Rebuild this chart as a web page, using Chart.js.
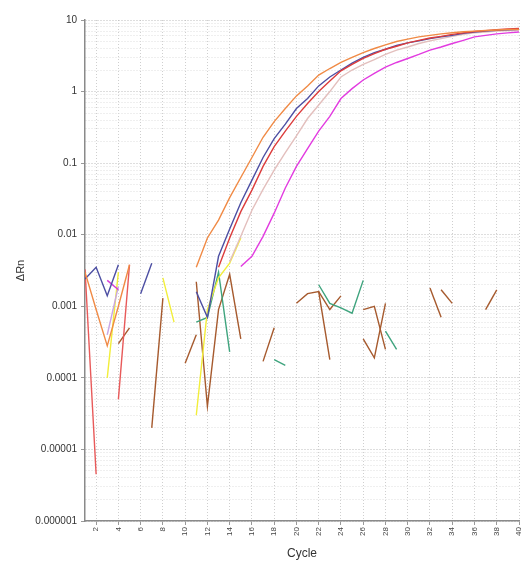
<!DOCTYPE html>
<html>
<head>
<meta charset="utf-8">
<script src="https://cdn.jsdelivr.net/npm/chart.js@4/dist/chart.umd.min.js"></script>
<style>
  html, body { margin: 0; padding: 0; background: #fff; }
  #wrap { width: 521px; height: 567px; }
</style>
</head>
<body>
<div id="wrap"><canvas id="ampChart" width="521" height="567"></canvas></div>
<script>
// axis ticks
const xTicks = [2, 4, 6, 8, 10, 12, 14, 16, 18, 20, 22, 24, 26, 28, 30, 32, 34, 36, 38, 40];
const yDecades = [0.000001, 0.00001, 0.0001, 0.001, 0.01, 0.1, 1, 10];
const yTickLabels = ['0.000001', '0.00001', '0.0001', '0.001', '0.01', '0.1', '1', '10'];

// amplification curves (delta Rn per cycle, first value at the start cycle)
const orangeStart = 11;
const orangeAmp = [0.0035, 0.009, 0.016, 0.033, 0.063, 0.12, 0.23, 0.38, 0.58, 0.87, 1.2, 1.7, 2.1, 2.55, 3.0, 3.5, 4.0, 4.5, 5.0, 5.4, 5.8, 6.1, 6.4, 6.65, 6.85, 7.0, 7.15, 7.25, 7.35, 7.4];
const blueStart = 11;
const blueAmp = [0.0016, 0.0007, 0.005, 0.012, 0.028, 0.058, 0.12, 0.22, 0.35, 0.58, 0.8, 1.2, 1.6, 2.0, 2.5, 3.0, 3.5, 3.9, 4.4, 4.8, 5.1, 5.5, 5.8, 6.1, 6.5, 6.8, 7.0, 7.2, 7.3, 7.4];
const redStart = 13;
const redAmp = [0.0035, 0.009, 0.021, 0.042, 0.09, 0.17, 0.28, 0.45, 0.68, 1.0, 1.4, 1.95, 2.4, 2.9, 3.4, 3.9, 4.3, 4.8, 5.2, 5.6, 5.9, 6.3, 6.6, 6.9, 7.1, 7.3, 7.5, 7.6];
const pinkStart = 14;
const pinkAmp = [0.0042, 0.0095, 0.022, 0.043, 0.08, 0.14, 0.24, 0.42, 0.65, 1.0, 1.6, 2.0, 2.4, 2.8, 3.3, 3.8, 4.2, 4.7, 5.1, 5.5, 5.9, 6.3, 6.6, 6.8, 7.0, 7.1, 7.2];
const yellowStart = 11;
const yellowAmp = [0.00003, 0.0009, 0.0025, 0.004, 0.009];
const magentaStart = 15;
const magentaAmp = [0.0036, 0.005, 0.0095, 0.02, 0.045, 0.09, 0.16, 0.28, 0.45, 0.8, 1.1, 1.45, 1.8, 2.2, 2.55, 2.9, 3.3, 3.8, 4.2, 4.7, 5.2, 5.8, 6.1, 6.4, 6.6, 6.8];

// baseline noise fragments: [cycle, delta Rn], null = break in the trace
const orangeNoise = [[1, 0.003], [2, 0.0009], [3, 0.00028], [4, 0.001], [5, 0.0038]];
const blueNoise = [[1, 0.0024], [2, 0.0035], [3, 0.0014], [4, 0.0038], null, [6, 0.0015], [7, 0.004]];
const redNoise = [[1, 0.0033], [2, 0.0000045], null, [4, 0.00005], [5, 0.0038]];
const magentaNoise = [[3, 0.0023], [4, 0.0017]];
const lavenderNoise = [[3, 0.0004], [4, 0.0019]];
const yellowNoise = [[3, 0.0001], [4, 0.003], null, [8, 0.0025], [9, 0.0006]];
const greenNoise = [[11, 0.0006], [12, 0.0007], [13, 0.003], [14, 0.00023], null, [18, 0.00018], [19, 0.00015], null,
  [22, 0.002], [23, 0.0011], [24, 0.00095], [25, 0.0008], [26, 0.0023], null, [28, 0.00045], [29, 0.00025]];
const brownNoise = [
  [[4, 0.0003], [5, 0.0005]],
  [[7, 0.00002], [8, 0.0013]],
  [[10, 0.00016], [11, 0.0004]],
  [[11, 0.0022], [12, 0.00004], [13, 0.0009], [14, 0.0028], [15, 0.00035]],
  [[17, 0.00017], [18, 0.0005]],
  [[20, 0.0011], [21, 0.0015], [22, 0.0016], [23, 0.00018]],
  [[22, 0.0016], [23, 0.0009], [24, 0.0014]],
  [[26, 0.0009], [27, 0.001], [28, 0.00025]],
  [[26, 0.00035], [27, 0.00019], [28, 0.0011]],
  [[32, 0.0018], [33, 0.0007]],
  [[33, 0.0017], [34, 0.0011]],
  [[37, 0.0009], [38, 0.0017]]
];

function ampPoints(start, values) {
  return values.map((v, i) => ({ x: start + i, y: v }));
}
function noisePoints(list) {
  return list.map(p => p ? { x: p[0], y: p[1] } : { x: null, y: null });
}
function line(data, color) {
  return { data: data, borderColor: color, borderWidth: 1.4, pointRadius: 0, fill: false, tension: 0, spanGaps: false };
}

const datasets = [
  line(ampPoints(orangeStart, orangeAmp), '#f08a45'),
  line(ampPoints(magentaStart, magentaAmp), '#e23be0'),
  line(ampPoints(redStart, redAmp), '#dc3c3c'),
  line(ampPoints(blueStart, blueAmp), '#4d4fa3'),
  line(ampPoints(pinkStart, pinkAmp), '#e3bfbd'),
  line(ampPoints(yellowStart, yellowAmp), '#f2ee3a'),
  line(noisePoints(orangeNoise), '#f08a45'),
  line(noisePoints(blueNoise), '#4d4fa3'),
  line(noisePoints(redNoise), '#e85a5a'),
  line(noisePoints(magentaNoise), '#d63bd6'),
  line(noisePoints(lavenderNoise), '#c9a6e6'),
  line(noisePoints(yellowNoise), '#f2ee3a'),
  line(noisePoints(greenNoise), '#3fa47e')
];
brownNoise.forEach(frag => datasets.push(line(noisePoints(frag), '#a65a2e')));

const yAllTicks = [];
yDecades.forEach((d, i) => {
  for (let m = 1; m <= 9; m++) {
    if (i === yDecades.length - 1 && m > 1) break;
    yAllTicks.push({ value: +(d * m).toPrecision(3), major: m === 1 });
  }
});

new Chart(document.getElementById('ampChart'), {
  type: 'line',
  data: { datasets: datasets },
  options: {
    responsive: false,
    animation: false,
    layout: { padding: { top: 20, right: 2, left: 0, bottom: 0 } },
    plugins: { legend: { display: false }, tooltip: { enabled: false } },
    scales: {
      x: {
        type: 'linear',
        min: 1,
        max: 40,
        afterBuildTicks: s => { s.ticks = xTicks.map(v => ({ value: v })); },
        afterFit: s => { s.height = 46; s.paddingRight = 0; s.paddingLeft = 0; },
        ticks: {
          autoSkip: false,
          maxRotation: 90,
          minRotation: 90,
          padding: 2,
          color: '#444',
          font: { family: 'Liberation Sans, Arial', size: 8 }
        },
        grid: { color: '#cfcfcf', lineWidth: 1, tickLength: 4, tickColor: '#999' },
        border: { color: '#8a8a8a', width: 1.5, dash: [1, 2] },
        title: {
          display: true,
          text: 'Cycle',
          color: '#333',
          font: { family: 'Liberation Sans, Arial', size: 12 },
          padding: { top: 0, bottom: 6 }
        }
      },
      y: {
        type: 'logarithmic',
        min: 0.000001,
        max: 10,
        afterBuildTicks: s => { s.ticks = yAllTicks.map(t => ({ value: t.value, major: t.major })); },
        afterFit: s => { s.width = 85; },
        ticks: {
          autoSkip: false,
          padding: 4,
          color: '#333',
          font: { family: 'Liberation Sans, Arial', size: 10 },
          callback: function (value) {
            const i = yDecades.findIndex(d => Math.abs(d - value) / d < 1e-6);
            return i >= 0 ? yTickLabels[i] : '';
          }
        },
        grid: {
          color: ctx => (ctx.tick && ctx.tick.major) ? '#bdbdbd' : '#dedede',
          lineWidth: 1,
          tickLength: 4,
          tickColor: ctx => (ctx.tick && ctx.tick.major) ? '#999' : 'rgba(0,0,0,0)'
        },
        border: { color: '#8a8a8a', width: 1.5, dash: [1, 2] },
        title: {
          display: true,
          text: 'ΔRn',
          color: '#333',
          font: { family: 'Liberation Sans, Arial', size: 11 },
          padding: { top: 14, bottom: 0 }
        }
      }
    }
  }
});
</script>
</body>
</html>
